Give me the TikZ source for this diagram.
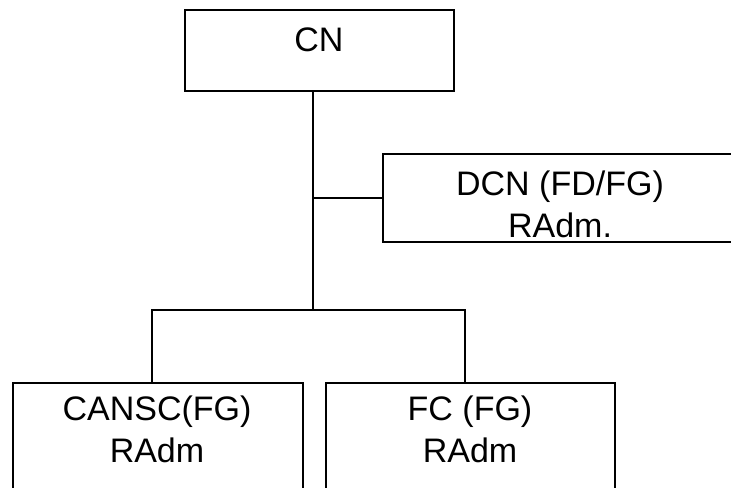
\documentclass[tikz,border=0pt]{standalone}
\usepackage{fontspec}
\setmainfont{Liberation Sans}
\usetikzlibrary{positioning}

\tikzset{
  box/.style={draw,line width=1.5pt,rectangle,inner sep=0pt,anchor=north west},
  lbl/.style={font=\fontsize{25.5}{31.5}\selectfont,align=center,anchor=base,inner sep=0pt},
  wire/.style={line width=1.5pt}
}

\begin{document}
\begin{tikzpicture}[x=0.75pt,y=-0.75pt]
      \clip (0,0) rectangle (731,487);
      \fill[white] (0,0) rectangle (731,487);
      % boxes
      \node[box,minimum width=201.75pt,minimum height=61.1pt] (cn) at (184,8.5) {};
      \node[box,minimum width=267pt,minimum height=65.6pt] (dcn) at (381.7,153.3) {};
      \node[box,minimum width=217.5pt,minimum height=112.5pt] (cansc) at (11.7,381.7) {};
      \node[box,minimum width=217.1pt,minimum height=112.5pt] (fc) at (325,381.7) {};
      % labels (base = last line)
      \node[lbl] (cntext) at (319,51) {CN};
      \node[lbl] (dcntext) at (560,237) {DCN (FD/FG)\\RAdm.};
      \node[lbl] (cansctext) at (157,462) {CANSC(FG)\\RAdm};
      \node[lbl] (fctext) at (470,462) {FC (FG)\\RAdm};
      % connectors
      \coordinate (split) at (313,310);
      \draw[wire] (cn.south -| split) -- (split);
      \draw[wire] (split |- dcn.west) -- (dcn.west);
      \draw[wire] ([xshift=-4pt]cansc.north) |- (split) -| ([xshift=-4pt]fc.north);
    \end{tikzpicture}
\end{document}
